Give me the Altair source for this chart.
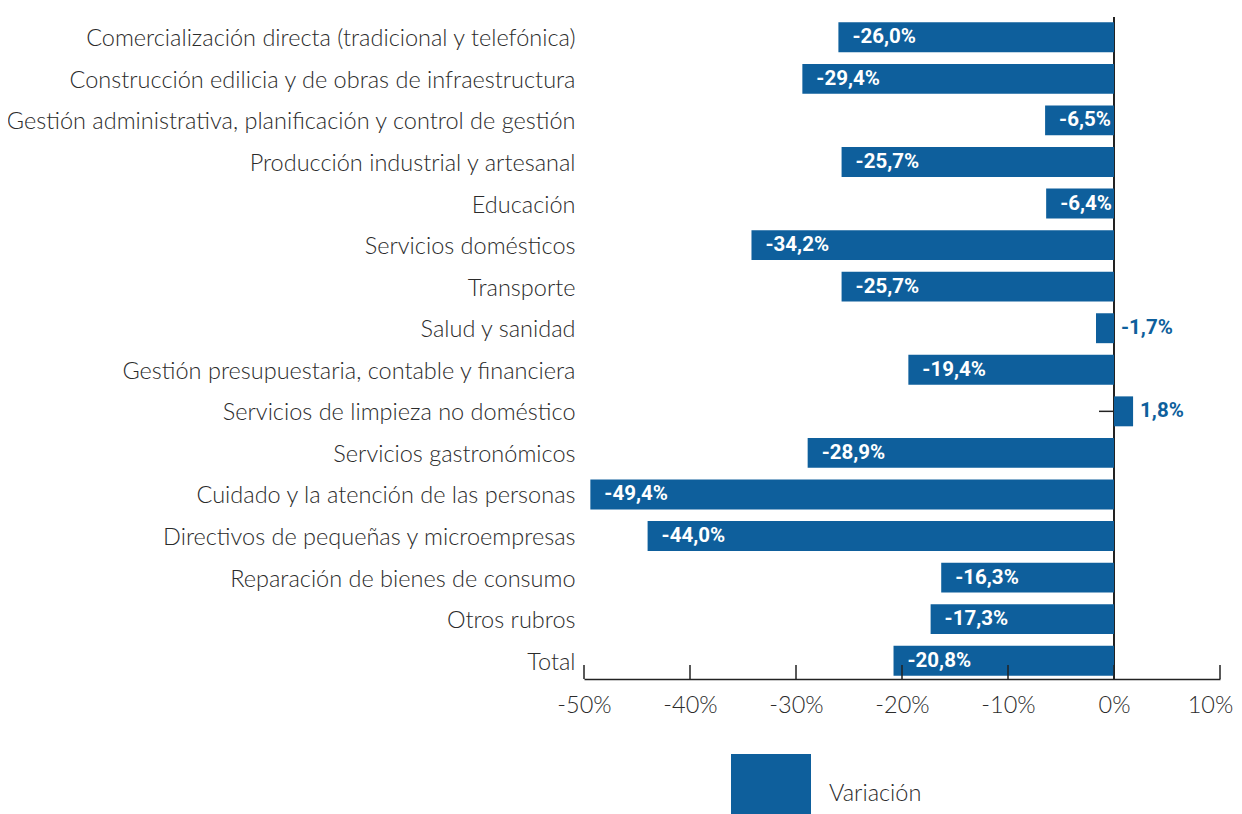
import altair as alt
import pandas as pd

categories = [
    "Comercialización directa (tradicional y telefónica)",
    "Construcción edilicia y de obras de infraestructura",
    "Gestión administrativa, planificación y control de gestión",
    "Producción industrial y artesanal",
    "Educación",
    "Servicios domésticos",
    "Transporte",
    "Salud y sanidad",
    "Gestión presupuestaria, contable y financiera",
    "Servicios de limpieza no doméstico",
    "Servicios gastronómicos",
    "Cuidado y la atención de las personas",
    "Directivos de pequeñas y microempresas",
    "Reparación de bienes de consumo",
    "Otros rubros",
    "Total",
]
values = [-26.0, -29.4, -6.5, -25.7, -6.4, -34.2, -25.7, -1.7, -19.4, 1.8,
          -28.9, -49.4, -44.0, -16.3, -17.3, -20.8]
x_ticks = [-50, -40, -30, -20, -10, 0, 10]
series_name = "Variación"

BLUE = "#0E5F9C"
FONT = "Lato"
TXT = "#2b2b2b"
FS = 23.5

df = pd.DataFrame({"cat": categories, "val": values})
df["serie"] = series_name
df["label"] = df["val"].map(lambda v: f"{v:.1f}".replace(".", ",") + "%")
df["inside"] = df["val"] < -5
df["lpos"] = [v if v < -5 else max(v, 0) for v in values]

ticks_df = pd.DataFrame({"t": x_ticks})

W, H = 636, 660

xscale = alt.Scale(domain=[-50, 10], nice=False)
yscale = alt.Scale(domain=categories, paddingInner=0.28, paddingOuter=0.08)

base = alt.Chart(df)

ytick = base.mark_rule(color="#222222", strokeWidth=1.5, x2Offset=-15).encode(
    y=alt.Y("cat:N", scale=yscale, sort=categories,
            axis=alt.Axis(title=None, ticks=False, domain=False, labelFont=FONT,
                          labelFontSize=FS, labelFontWeight=300, labelColor=TXT,
                          labelPadding=9, labelLimit=1000, labelOffset=2)),
    x=alt.datum(0, scale=xscale),
    x2=alt.datum(0),
)

zero = alt.Chart(pd.DataFrame({"z": [0]})).mark_rule(color="#222222", strokeWidth=2).encode(
    x=alt.X("z:Q", scale=xscale),
    y=alt.value(-2),
    y2=alt.value(H),
)

bars = base.mark_bar().encode(
    y=alt.Y("cat:N", scale=yscale, sort=categories),
    x=alt.X("val:Q", scale=xscale,
            axis=alt.Axis(title=None, values=x_ticks, ticks=False, tickSize=0, grid=False,
                          domainColor="#222222", domainWidth=1.5, labelFont=FONT,
                          labelFontSize=FS, labelFontWeight=300, labelColor=TXT,
                          labelPadding=14, labelFlush=False,
                          labelOffset={"condition": {"test": "datum.value == 10", "value": -10},
                                       "value": 0},
                          labelExpr="datum.value + '%'")),
    x2=alt.datum(0),
    color=alt.Color("serie:N", scale=alt.Scale(range=[BLUE]),
                    legend=alt.Legend(title=None, orient="none", legendX=147, legendY=735,
                                      symbolType="square", symbolSize=6400,
                                      symbolStrokeWidth=0, symbolOpacity=1,
                                      labelFont=FONT, labelFontSize=FS, labelFontWeight=300,
                                      labelColor=TXT, labelOffset=18)),
)

xticks = alt.Chart(ticks_df).mark_rule(color="#222222", strokeWidth=1.5).encode(
    x=alt.X("t:Q", scale=xscale),
    y=alt.value(H - 14),
    y2=alt.value(H),
)

txt_in = base.transform_filter("datum.inside").mark_text(
    align="left", baseline="middle", dx=14, font="Roboto", fontWeight="bold",
    fontSize=20.5, color="white"
).encode(
    y=alt.Y("cat:N", scale=yscale, sort=categories),
    x=alt.X("lpos:Q", scale=xscale),
    text="label:N",
)

txt_out = base.transform_filter("!datum.inside").mark_text(
    align="left", baseline="middle", dx=7, font="Roboto", fontWeight="bold",
    fontSize=20.5, color=BLUE
).encode(
    y=alt.Y("cat:N", scale=yscale, sort=categories),
    x=alt.X("lpos:Q", scale=xscale),
    text="label:N",
)

chart = alt.layer(ytick, zero, bars, xticks, txt_in, txt_out).properties(
    width=W, height=H,
    autosize=alt.AutoSizeParams(type="none"),
    padding={"left": 576, "top": 11, "right": 14, "bottom": 150},
).configure_view(stroke=None)

chart.save("out.html", embed_options={"renderer": "svg", "actions": False})
